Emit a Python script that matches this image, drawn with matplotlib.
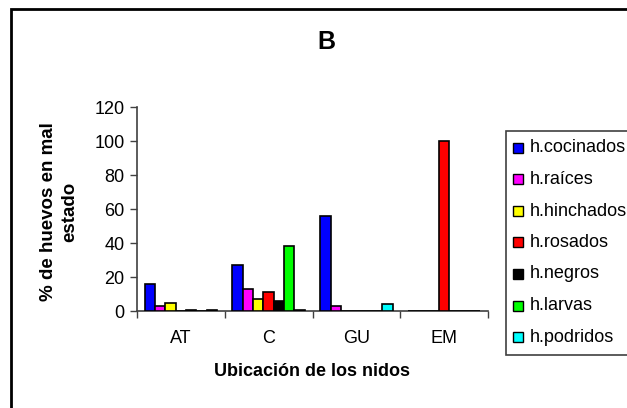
import matplotlib
matplotlib.use("Agg")
import matplotlib.pyplot as plt
from matplotlib.patches import Rectangle
import numpy as np

plt.rcParams['font.family'] = ['Liberation Sans', 'DejaVu Sans']

categories = ["AT", "C", "GU", "EM"]
series_names = ["h.cocinados", "h.raíces", "h.hinchados", "h.rosados",
                "h.negros", "h.larvas", "h.podridos"]
colors = ["#0000FF", "#FF00FF", "#FFFF00", "#FF0000", "#000000", "#00FF00", "#00FFFF"]

cocinados = [16, 27, 56, 0]
raices = [3, 13, 3, 0]
hinchados = [5, 7, 0, 0]
rosados = [0, 11, 0, 100]
negros = [0.5, 6, 0, 0]
larvas = [0, 38, 0, 0]
podridos = [0.5, 0.5, 4, 0]
series = [cocinados, raices, hinchados, rosados, negros, larvas, podridos]

title = "B"
ylabel = "% de huevos en mal\nestado"
xlabel = "Ubicación de los nidos"
yticks = [0, 20, 40, 60, 80, 100, 120]

W, H = 627, 408
fig = plt.figure(figsize=(W / 100, H / 100), dpi=100)


def fx(px):
    return px / W


def fy(py):
    return 1 - py / H


# plot area
ax_l, ax_r, ax_t, ax_b = 137, 488, 107, 311
ax = fig.add_axes([fx(ax_l), fy(ax_b), fx(ax_r - ax_l), (ax_b - ax_t) / H])

n = len(series)
bw = 1 / (n + 1.5)
x = np.arange(len(categories)) + 0.5
for i, (vals, c, name) in enumerate(zip(series, colors, series_names)):
    ax.bar(x + (i - (n - 1) / 2) * bw, vals, width=bw, color=c,
           edgecolor="black", linewidth=1.2, label=name, zorder=3)

ax.set_xlim(0, len(categories))
ax.set_ylim(0, 120)
ax.set_yticks(yticks)
ax.set_xticks(np.arange(len(categories) + 1))
ax.set_xticklabels([])
ax.set_xticks(x, minor=True)
ax.set_xticklabels(categories, minor=True)
ax.tick_params(axis="x", which="minor", length=0, pad=14, labelsize=13)
ax.tick_params(axis="x", which="major", direction="out", length=5, width=1, color="#404040")
ax.tick_params(axis="y", direction="out", length=5, width=1, color="#404040",
               labelsize=13, pad=4)
for s in ["top", "right"]:
    ax.spines[s].set_visible(False)
for s in ["left", "bottom"]:
    ax.spines[s].set_color("#404040")
    ax.spines[s].set_linewidth(1.2)

ax.set_xlabel(xlabel, fontsize=13, fontweight="bold", labelpad=11)
fig.text(fx(59), fy(212), ylabel, fontsize=13.5, fontweight="bold",
         rotation=90, ha="center", va="center", linespacing=1.3, multialignment="center")

fig.text(fx(326), fy(42), title, fontsize=18, fontweight="bold",
         ha="center", va="center")

# legend
fig.patches.append(Rectangle((fx(506), fy(355)), fx(200), (355 - 131) / H,
                             transform=fig.transFigure, facecolor="white",
                             edgecolor="#404040", linewidth=1.2))
for i, (c, name) in enumerate(zip(colors, series_names)):
    cy = 148 + 31.5 * i
    fig.patches.append(Rectangle((fx(513), fy(cy + 5)), fx(10), 10 / H,
                                 transform=fig.transFigure, facecolor=c,
                                 edgecolor="black", linewidth=1.0))
    fig.text(fx(530), fy(cy), name, fontsize=13, ha="left", va="center")

# outer frame
fig.patches.append(Rectangle((fx(11), fy(700)), fx(900), 691 / H,
                             transform=fig.transFigure, facecolor="none",
                             edgecolor="black", linewidth=2))

fig.savefig("out.png", dpi=100)
